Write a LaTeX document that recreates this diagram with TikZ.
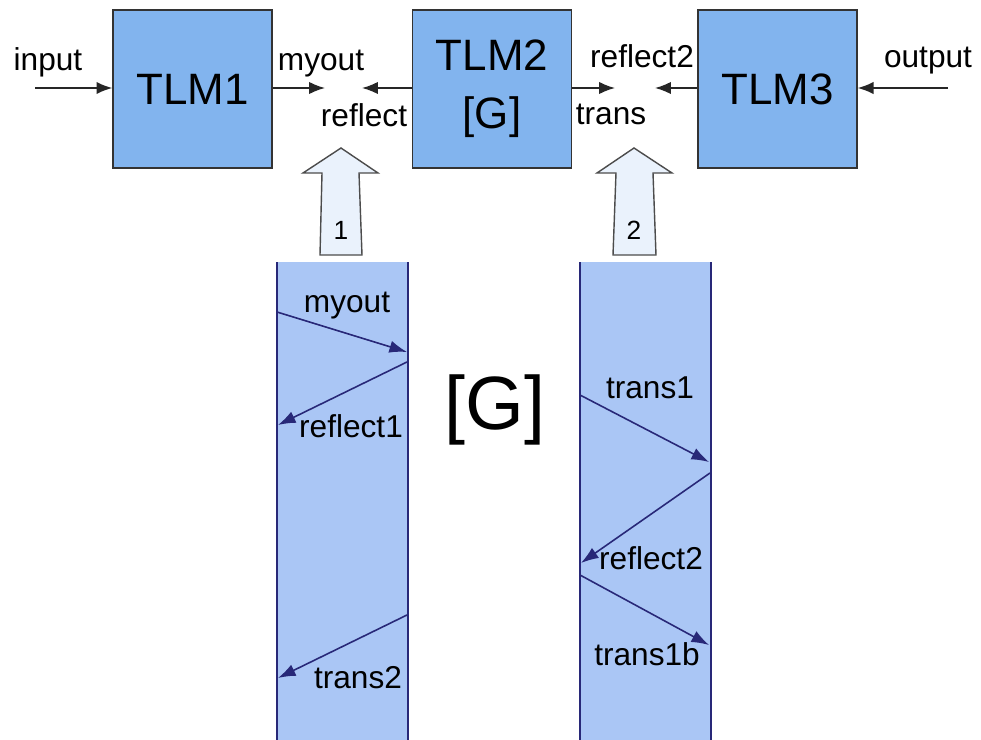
\documentclass[tikz,border=0pt]{standalone}
\usepackage{fontspec}
\setmainfont{Liberation Sans}
\usetikzlibrary{arrows.meta}
\definecolor{tlmblue}{RGB}{130,180,238}
\definecolor{colblue}{RGB}{170,198,245}
\definecolor{hollowblue}{RGB}{234,242,252}
\definecolor{wavenavy}{RGB}{40,40,120}
\tikzset{
  tlm-box/.style={
    draw=black!80,
    fill=tlmblue,
    line width=0.8pt,
    minimum width=3.18cm,
    minimum height=3.16cm,
    inner sep=0pt,
    align=center,
    font=\fontsize{25}{33}\selectfont
  },
  port/.style={-{Latex[length=9pt,width=7pt]}, line width=0.9pt, draw=black!85},
  port-label/.style={inner sep=0pt, anchor=base, font=\fontsize{18}{20}\selectfont},
  column/.style={fill=colblue, minimum width=2.6cm, minimum height=9.56cm, inner sep=0pt, anchor=north west},
  column-edge/.style={line width=1pt, draw=wavenavy},
  wave/.style={-{Latex[length=10pt,width=7pt]}, line width=0.9pt, draw=wavenavy},
  big-arrow/.style={draw=black!70, fill=hollowblue, line width=0.8pt, line join=miter},
  num-label/.style={inner sep=0pt, font=\fontsize{15}{17}\selectfont}
}

\begin{document}
\begin{tikzpicture}[x=0.02cm, y=-0.02cm]
  \useasboundingbox (0,0) rectangle (981,740);
  % Blocks
  \node[tlm-box] (tlm1) at (192.5,89) {TLM1};
  \node[tlm-box] (tlm2) at (492,89) {TLM2\\{}[G]};
  \node[tlm-box] (tlm3) at (777.5,89) {TLM3};
  % Ports
  \coordinate (in) at (35,88);
  \coordinate (myout) at (325,88);
  \coordinate (refl) at (362,88);
  \coordinate (trans) at (615,88);
  \coordinate (refl2) at (655,88);
  \coordinate (out) at (948,88);
  \draw[port] (in) -- (in -| tlm1.west);
  \draw[port] (myout -| tlm1.east) -- (myout);
  \draw[port] (refl -| tlm2.west) -- (refl);
  \draw[port] (trans -| tlm2.east) -- (trans);
  \draw[port] (refl2 -| tlm3.west) -- (refl2);
  \draw[port] (out) -- (out -| tlm3.east);
  \node[port-label] (in-lbl) at (48,71) {input};
  \node[port-label] (myout-lbl) at (321,71) {myout};
  \node[port-label] (refl-lbl) at (364,127) {reflect};
  \node[port-label] (trans-lbl) at (611,125) {trans};
  \node[port-label] (refl2-lbl) at (642,68) {reflect2};
  \node[port-label] (out-lbl) at (928,68) {output};
  % Hollow arrows
  \draw[big-arrow] (320,255) -- (322,173) -- (303,173) -- (341,148) -- (378,173)
    -- (359,173) -- (362,255) -- cycle;
  \node[num-label] (one) at (341,230) {1};
  \draw[big-arrow] (613,255) -- (616,173) -- (597,173) -- (634,148) -- (672,173)
    -- (653,173) -- (656,255) -- cycle;
  \node[num-label] (two) at (634,230) {2};
  % Columns
  \node[column] (lcol) at (277,262) {};
  \node[column] (rcol) at (580,262) {};
  \draw[column-edge] (lcol.north west) -- (lcol.south west);
  \draw[column-edge] (lcol.north east) -- (lcol.south east);
  \draw[column-edge] (rcol.north west) -- (rcol.south west);
  \draw[column-edge] (rcol.north east) -- (rcol.south east);
  % Left column waves
  \coordinate (l1) at (277,312);
  \coordinate (l2) at (407,352);
  \coordinate (l3) at (407,362);
  \coordinate (l4) at (278,425);
  \coordinate (l5) at (407,615);
  \coordinate (l6) at (278,678);
  \draw[wave] (l1) -- (l2);
  \draw[wave] (l3) -- (l4);
  \draw[wave] (l5) -- (l6);
  \node[port-label] (myout-in) at (347,312) {myout};
  \node[port-label] (refl1-in) at (351,437) {reflect1};
  \node[port-label] (trans2-in) at (358,688) {trans2};
  % Right column waves
  \coordinate (r1) at (580,395);
  \coordinate (r2) at (709,462);
  \coordinate (r3) at (710,473);
  \coordinate (r4) at (581,563);
  \coordinate (r5) at (580,575);
  \coordinate (r6) at (709,645);
  \draw[wave] (r1) -- (r2);
  \draw[wave] (r3) -- (r4);
  \draw[wave] (r5) -- (r6);
  \node[port-label] (trans1-in) at (650,398) {trans1};
  \node[port-label] (refl2-in) at (651,569) {reflect2};
  \node[port-label] (trans1b-in) at (647,665) {trans1b};
  % Scattering matrix
  \node[inner sep=0pt, font=\fontsize{43}{45}\selectfont] (gmat) at (495,410) {[G]};
\end{tikzpicture}
\end{document}
